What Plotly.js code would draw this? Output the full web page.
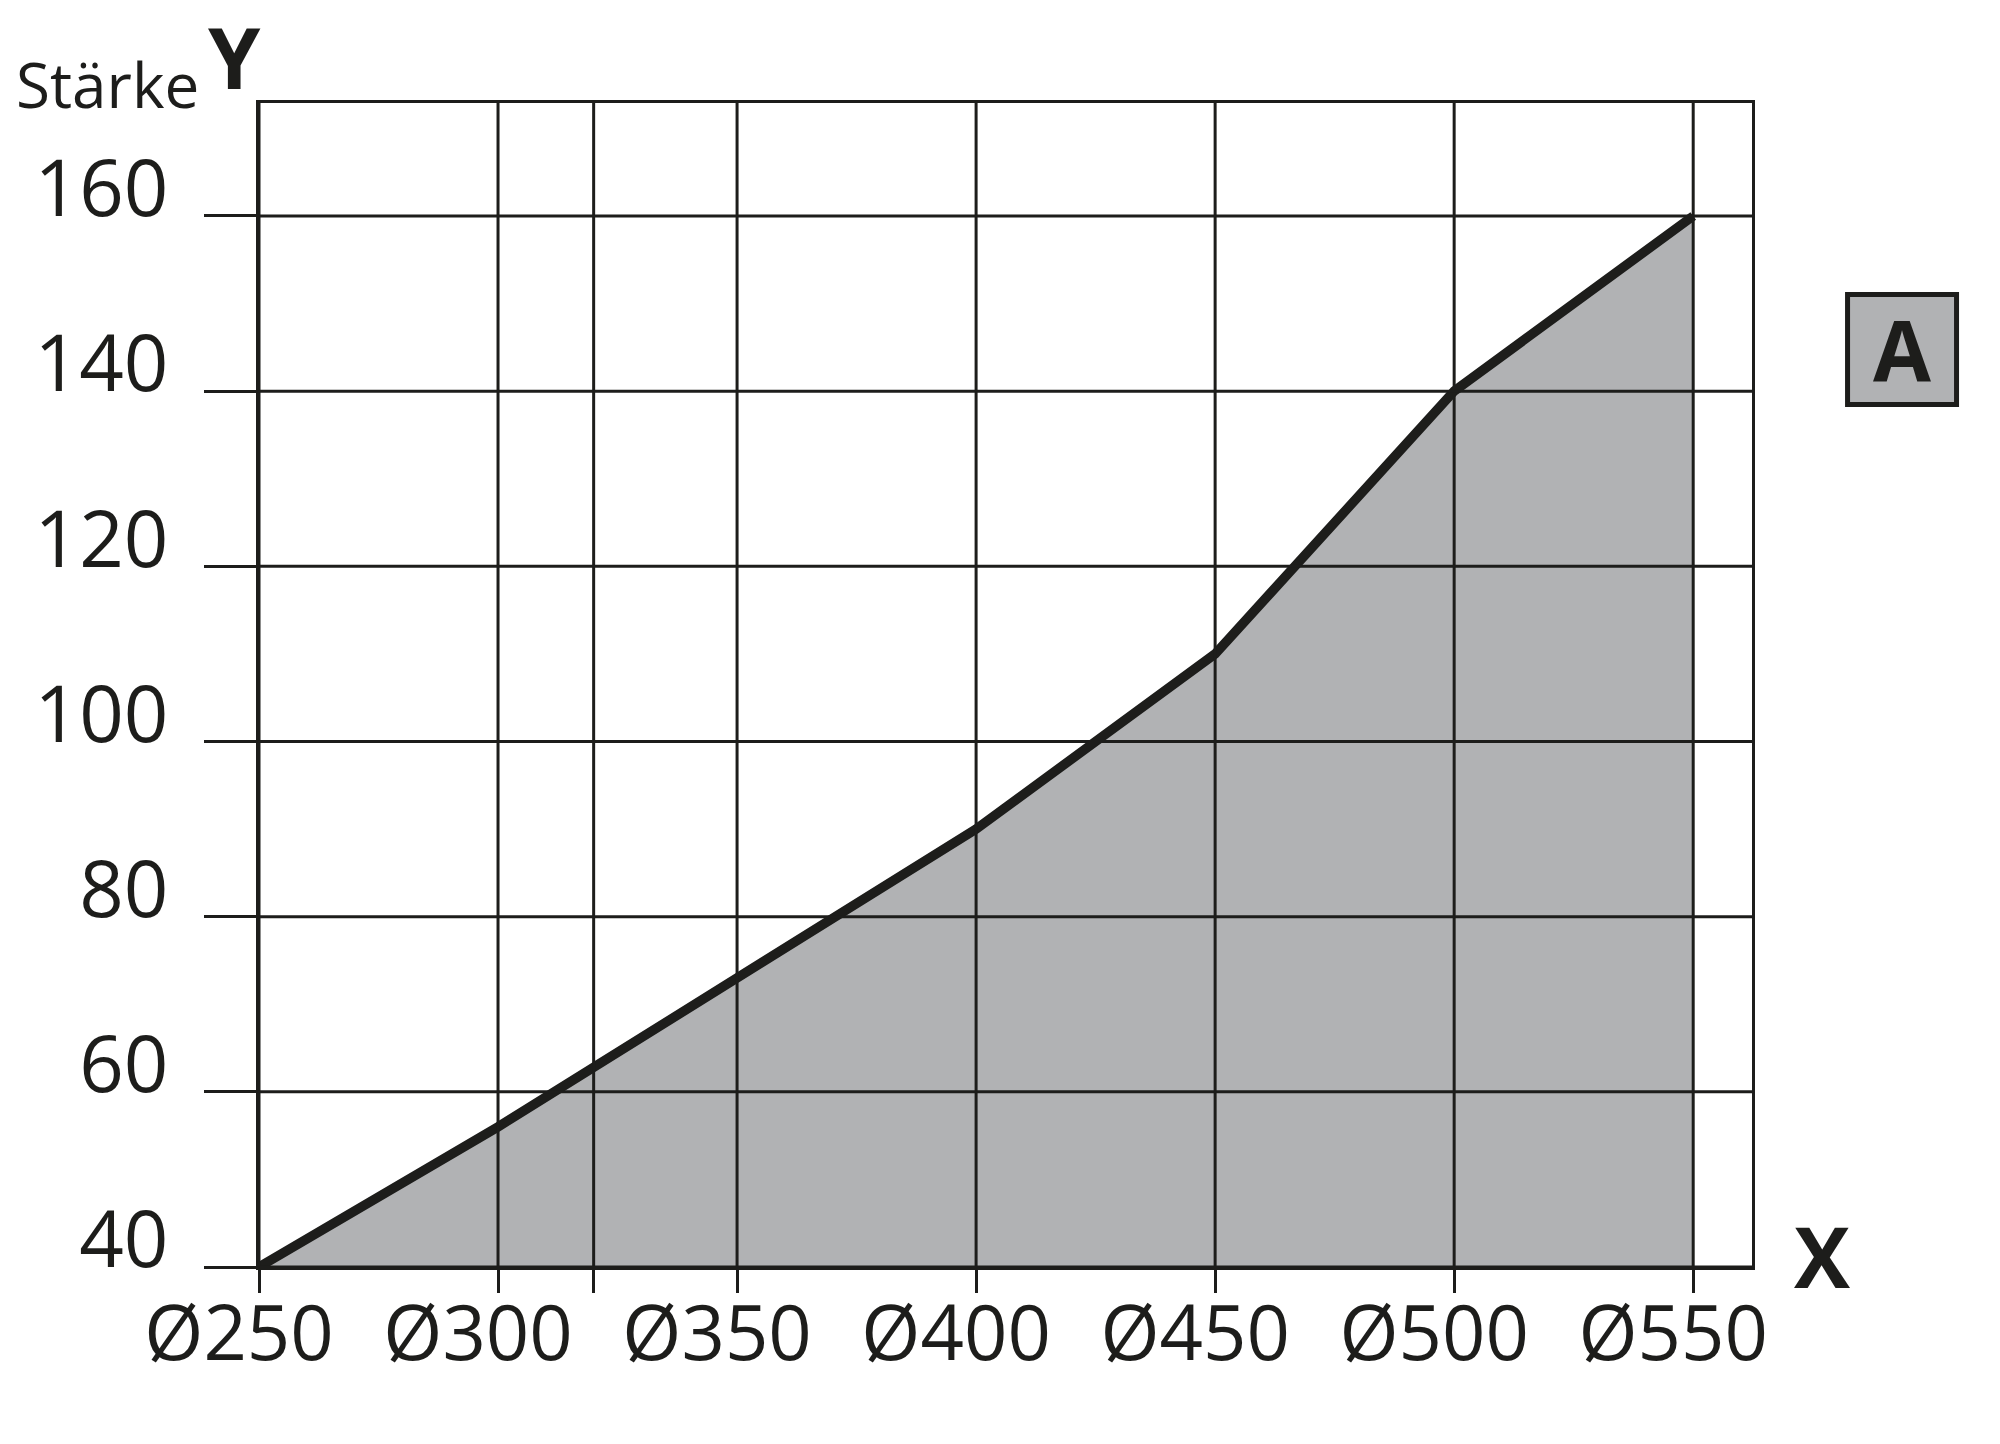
<!DOCTYPE html>
<html>
<head>
<meta charset="utf-8">
<script src="https://cdn.plot.ly/plotly-3.0.1.min.js"></script>
<style>html,body{margin:0;padding:0;background:#fff;}#chart{width:2000px;height:1444px;}</style>
</head>
<body>
<div id="chart"></div>
<script>
// Data
const diameters = [250, 300, 400, 450, 500, 550];
const staerke = [40, 56, 90, 110, 140, 160];
const xTickVals = [250, 300, 350, 400, 450, 500, 550];
const xTickText = ['Ø250', 'Ø300', 'Ø350', 'Ø400', 'Ø450', 'Ø500', 'Ø550'];
const extraGridX = [320];
const yTickVals = [40, 60, 80, 100, 120, 140, 160];
const yTickText = ['40', '60', '80', '100', '120', '140', '160'];

const ink = '#1d1d1b';
const grey = '#b1b2b4';

const fillTrace = {
  x: diameters, y: staerke, type: 'scatter', mode: 'lines',
  fill: 'tozeroy', fillcolor: grey, line: {width: 0, color: grey},
  hoverinfo: 'skip', showlegend: false
};
const lineTrace = {
  x: diameters, y: staerke, type: 'scatter', mode: 'lines',
  line: {width: 9.5, color: ink}, showlegend: false
};

const shapes = [];
xTickVals.concat(extraGridX).forEach(v => shapes.push({
  type: 'line', xref: 'x', yref: 'paper', x0: v, x1: v, y0: 0, y1: 1,
  line: {color: ink, width: 3}, layer: 'above'
}));
yTickVals.forEach(v => shapes.push({
  type: 'line', xref: 'paper', yref: 'y', x0: 0, x1: 1, y0: v, y1: v,
  line: {color: ink, width: 3}, layer: 'above'
}));
// "A" badge box
shapes.push({
  type: 'rect', xref: 'paper', yref: 'paper', x0: 1.0640, x1: 1.1370, y0: 0.7410, y1: 0.8355,
  fillcolor: grey, line: {color: ink, width: 5}, layer: 'above'
});

const layout = {
  width: 2000, height: 1444,
  margin: {l: 259, r: 248, t: 103, b: 177},
  paper_bgcolor: '#ffffff', plot_bgcolor: '#ffffff',
  font: {family: 'Open Sans, sans-serif', color: ink},
  showlegend: false,
  xaxis: {
    range: [250, 562.3], tickmode: 'array', tickvals: xTickVals, ticktext: xTickText,
    showgrid: false, zeroline: false, showline: true, mirror: true, linecolor: ink, linewidth: 3,
    ticks: 'outside', ticklen: 23, tickwidth: 3, tickcolor: ink,
    tickfont: {size: 76, family: 'Open Sans, sans-serif', color: ink},
    ticklabelshift: -20, ticklabelstandoff: -24,
    minor: {tickmode: 'array', tickvals: extraGridX, ticks: 'outside', ticklen: 23, tickwidth: 3, tickcolor: ink, showgrid: false}
  },
  yaxis: {
    range: [40, 172.9], tickmode: 'array', tickvals: yTickVals, ticktext: yTickText,
    showgrid: false, zeroline: false, showline: true, mirror: true, linecolor: ink, linewidth: 3,
    ticks: 'outside', ticklen: 52, tickwidth: 3, tickcolor: ink,
    tickfont: {size: 78, family: 'Open Sans, sans-serif', color: ink},
    ticklabelshift: -27, ticklabelstandoff: 20
  },
  shapes: shapes,
  annotations: [
    {text: 'Stärke', xref: 'paper', yref: 'paper', x: -0.0390, y: 1.0160, xanchor: 'right', yanchor: 'middle',
     showarrow: false, font: {size: 62, family: 'Open Sans, sans-serif', color: ink}},
    {text: '<b>Y</b>', xref: 'paper', yref: 'paper', x: -0.0167, y: 1.040, xanchor: 'center', yanchor: 'middle',
     showarrow: false, font: {size: 84, family: 'Open Sans, sans-serif', color: ink}},
    {text: '<b>X</b>', xref: 'paper', yref: 'paper', x: 1.0469, y: 0.0103, xanchor: 'center', yanchor: 'middle',
     showarrow: false, font: {size: 84, family: 'Open Sans, sans-serif', color: ink}},
    {text: '<b>A</b>', xref: 'paper', yref: 'paper', x: 1.1005, y: 0.7887, xanchor: 'center', yanchor: 'middle',
     showarrow: false, font: {size: 84, family: 'Open Sans, sans-serif', color: ink}}
  ]
};

Plotly.newPlot('chart', [fillTrace, lineTrace], layout, {displayModeBar: false, staticPlot: true});
</script>
</body>
</html>
